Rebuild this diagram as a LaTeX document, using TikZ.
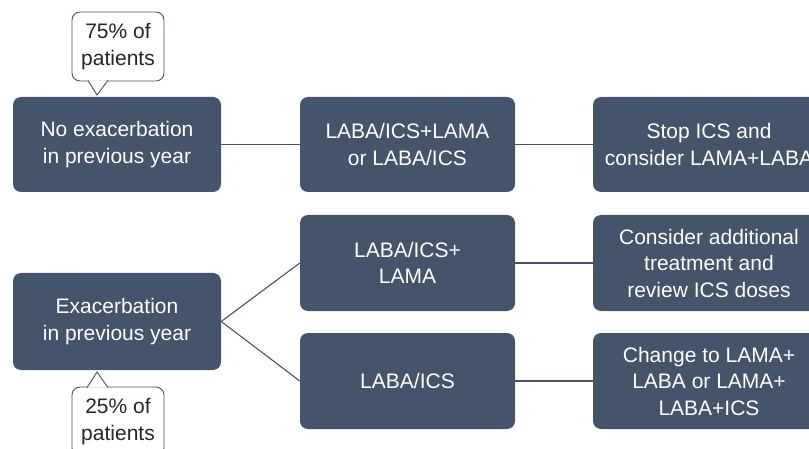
\documentclass[tikz,border=0pt]{standalone}
\usepackage{fontspec}
\setmainfont{Liberation Sans}
\usepackage{tikz}

\definecolor{slate}{HTML}{44546A}
\definecolor{ink}{HTML}{262626}

\begin{document}
\begin{tikzpicture}[x=1pt, y=-1pt,
	box/.style={shape=rectangle, rounded corners=8pt, fill=slate, text=white, align=center, inner sep=0pt, font=\fontsize{21}{26.5}\selectfont},
	callout/.style={shape=rectangle, rounded corners=8pt, draw=slate, fill=white, line width=0.9pt, text=ink, align=center, inner sep=0pt, minimum width=92pt, minimum height=69pt, font=\fontsize{21}{26.5}\selectfont},
	link/.style={-, draw=slate, line width=1.1pt}]
	
	\useasboundingbox (0,0) rectangle (809,449);
	\clip (0,0) rectangle (809,449);
	
	\node[box, minimum width=208pt, minimum height=95pt] (noexac) at (117, 144.5)  {No exacerbation\\in previous year};
	\node[box, minimum width=208pt, minimum height=97pt] (exac) at (117, 321.5)    {Exacerbation\\in previous year};
	\node[box, minimum width=215pt, minimum height=95pt] (either) at (407.5, 144.5) {LABA/ICS+LAMA\\or LABA/ICS};
	\node[box, minimum width=215pt, minimum height=96pt] (triple) at (407.5, 263)   {LABA/ICS+\\LAMA};
	\node[box, minimum width=215pt, minimum height=96pt] (dual) at (407.5, 381)     {LABA/ICS};
	\node[box, minimum width=232pt, minimum height=95pt] (stopics) at (709, 144.5)  {Stop ICS and\\consider LAMA+LABA};
	\node[box, minimum width=232pt, minimum height=96pt] (review) at (709, 263)     {Consider additional\\treatment and\\review ICS doses};
	\node[box, minimum width=232pt, minimum height=96pt] (change) at (709, 381)     {Change to LAMA+\\LABA or LAMA+\\LABA+ICS};
	
	\node[callout] (pct75) at (118, 46.5)  {75\% of\\patients};
	\node[callout] (pct25) at (118, 421.5) {25\% of\\patients};
	
	\coordinate (tip75) at (97, 95);
	\coordinate (a75) at (88, 80.4);
	\coordinate (b75) at (108, 80.4);
	\coordinate (tip25) at (97, 372);
	\coordinate (a25) at (87, 387.6);
	\coordinate (b25) at (108, 387.6);
	
	\filldraw[fill=white, draw=slate, line width=0.9pt] (a75) -- (tip75) -- (b75);
	\filldraw[fill=white, draw=slate, line width=0.9pt] (a25) -- (tip25) -- (b25);
	
	\path[link] (noexac) edge (either);
	\path[link] (either) edge (stopics);
	\path[link] (exac.east) edge (triple.west);
	\path[link] (exac.east) edge (dual.west);
	\path[link] (triple) edge (review);
	\path[link] (dual) edge (change);

\end{tikzpicture}
\end{document}
